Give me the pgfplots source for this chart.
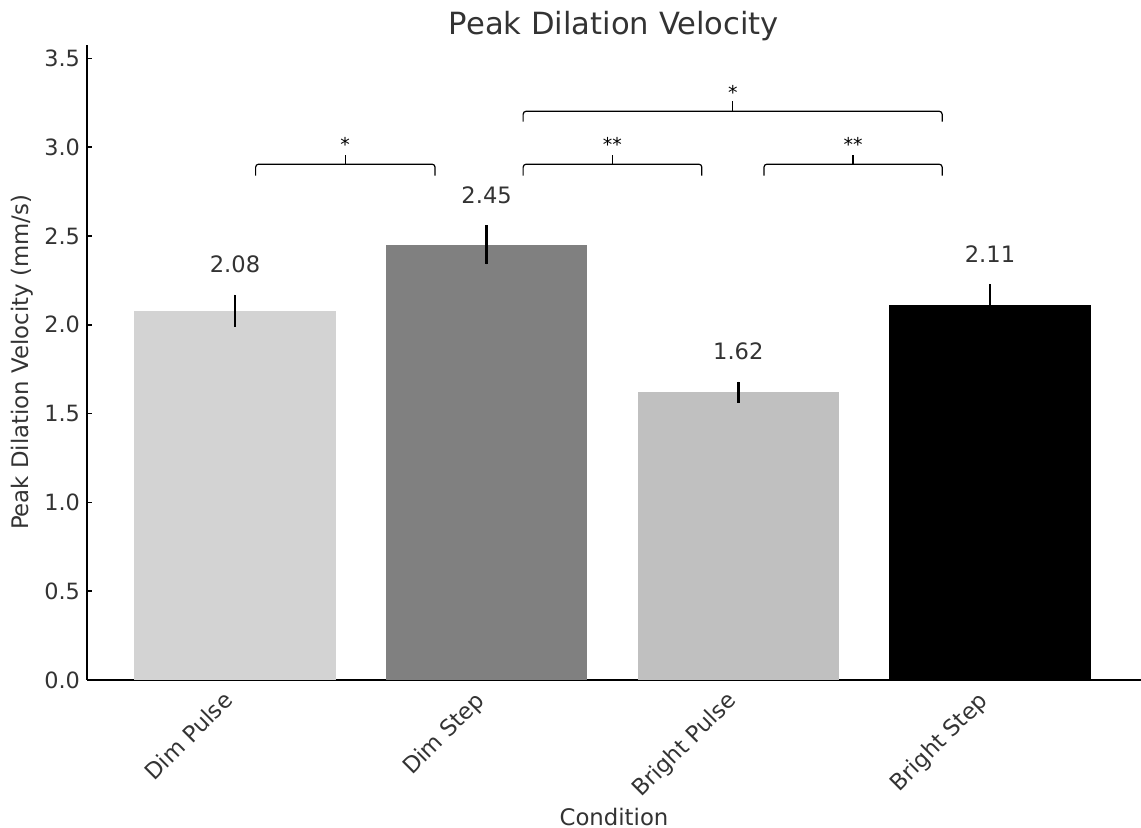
\documentclass[border=0pt]{standalone}
\usepackage{fontspec}
\setmainfont{DejaVu Sans}
\usepackage{pgfplots}
\pgfplotsset{compat=1.18}
\definecolor{txt}{HTML}{333333}
\definecolor{cDP}{HTML}{D3D3D3}
\definecolor{cDS}{HTML}{808080}
\definecolor{cBP}{HTML}{C0C0C0}
\definecolor{cBS}{HTML}{000000}
\begin{document}
\begin{tikzpicture}
\path[use as bounding box] (0,0) rectangle (570.5pt,414pt);
\begin{axis}[
  at={(43.5pt,74pt)}, anchor=south west,
  scale only axis, width=527pt, height=317.5pt,
  xmin=-0.588, xmax=3.6, ymin=0, ymax=3.575,
  axis x line*=bottom, axis y line*=left,
  axis line style={line width=0.8pt, black, -},
  tick style={black, line width=0.8pt}, major tick length=2.5pt, tick align=inside,
  ytick={0,0.5,1,1.5,2,2.5,3,3.5},
  yticklabel style={/pgf/number format/.cd, fixed, fixed zerofill, precision=1, assume math mode=true, /tikz/.cd, font=\fontsize{11.2}{13}\selectfont, text=txt},
  xtick={0,1,2,3},
  xticklabels={Dim Pulse,Dim Step,Bright Pulse,Bright Step},
  xticklabel style={xshift=-6.5pt, rotate=45, anchor=north east, font=\fontsize{11.3}{13}\selectfont, text=txt},
  xlabel={Condition},
  xlabel style={at={(axis description cs:0.5,-0.2157)}, anchor=center, font=\fontsize{11.4}{13}\selectfont, text=txt},
  ylabel={Peak Dilation Velocity (mm/s)},
  ylabel style={at={(axis description cs:-0.0617,0.5)}, anchor=center, font=\fontsize{11.4}{13}\selectfont, text=txt},
  title={Peak Dilation Velocity},
  every axis title shift=0pt,
  title style={at={(axis description cs:0.5,1)}, anchor=base, yshift=5pt, font=\fontsize{15.3}{17}\selectfont, text=txt},
  clip=false,
]
\addplot[ybar, bar width=0.8, bar shift=0pt, fill=cDP, draw=none,
  error bars/.cd, y dir=both, y explicit, error mark=none, error bar style={line width=1.2pt, black}]
  coordinates {(0,2.08) +- (0,0.09)};
\addplot[ybar, bar width=0.8, bar shift=0pt, fill=cDS, draw=none,
  error bars/.cd, y dir=both, y explicit, error mark=none, error bar style={line width=1.2pt, black}]
  coordinates {(1,2.45) +- (0,0.11)};
\addplot[ybar, bar width=0.8, bar shift=0pt, fill=cBP, draw=none,
  error bars/.cd, y dir=both, y explicit, error mark=none, error bar style={line width=1.2pt, black}]
  coordinates {(2,1.62) +- (0,0.06)};
\addplot[ybar, bar width=0.8, bar shift=0pt, fill=cBS, draw=none,
  error bars/.cd, y dir=both, y explicit, error mark=none, error bar style={line width=1.2pt, black}]
  coordinates {(3,2.11) +- (0,0.12)};
% value labels
\node[anchor=base, font=\fontsize{11.3}{13}\selectfont, text=txt] at (axis cs:0,2.293) {2.08};
\node[anchor=base, font=\fontsize{11.3}{13}\selectfont, text=txt] at (axis cs:1,2.684) {2.45};
\node[anchor=base, font=\fontsize{11.3}{13}\selectfont, text=txt] at (axis cs:2,1.805) {1.62};
\node[anchor=base, font=\fontsize{11.3}{13}\selectfont, text=txt] at (axis cs:3,2.348) {2.11};
% brackets
\tikzset{br/.style={line width=0.6pt, black, rounded corners=1.5pt}}
\draw[br] (axis cs:0.082,2.840) -- (axis cs:0.082,2.904) -- (axis cs:0.795,2.904) -- (axis cs:0.795,2.840);
\draw[line width=0.6pt] (axis cs:0.438,2.904) -- (axis cs:0.438,2.956);
\node[anchor=base, font=\fontsize{9.5}{10}\selectfont] at (axis cs:0.438,2.975) {*};
\draw[br] (axis cs:1.145,2.840) -- (axis cs:1.145,2.904) -- (axis cs:1.855,2.904) -- (axis cs:1.855,2.840);
\draw[line width=0.6pt] (axis cs:1.5,2.904) -- (axis cs:1.5,2.956);
\node[anchor=base, font=\fontsize{9.5}{10}\selectfont] at (axis cs:1.5,2.975) {**};
\draw[br] (axis cs:2.102,2.840) -- (axis cs:2.102,2.904) -- (axis cs:2.810,2.904) -- (axis cs:2.810,2.840);
\draw[line width=0.6pt] (axis cs:2.456,2.904) -- (axis cs:2.456,2.956);
\node[anchor=base, font=\fontsize{9.5}{10}\selectfont] at (axis cs:2.456,2.975) {**};
\draw[br] (axis cs:1.145,3.144) -- (axis cs:1.145,3.202) -- (axis cs:2.810,3.202) -- (axis cs:2.810,3.144);
\draw[line width=0.6pt] (axis cs:1.978,3.202) -- (axis cs:1.978,3.262);
\node[anchor=base, font=\fontsize{9.5}{10}\selectfont] at (axis cs:1.978,3.270) {*};
\end{axis}
\end{tikzpicture}
\end{document}
